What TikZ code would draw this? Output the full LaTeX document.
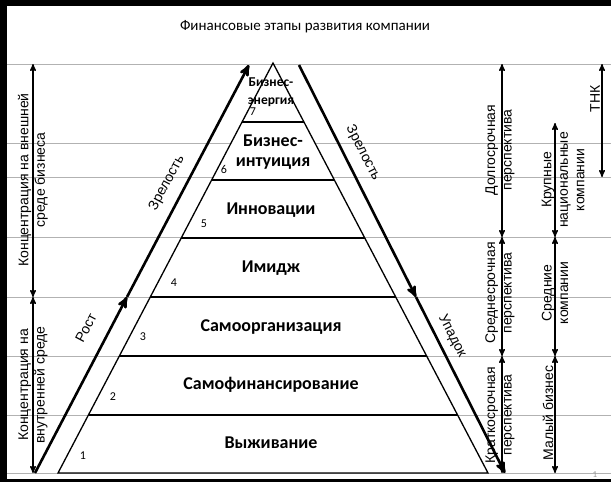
\documentclass[tikz,border=0pt]{standalone}
\usepackage{fontspec}
\setmainfont{Carlito}
\newfontfamily\arialfont{Liberation Sans}
\usetikzlibrary{arrows,positioning}

\tikzset{
  guide/.style={draw=black!30, line width=0.8pt},
  layer/.style={draw=black, line width=2.2pt},
  stage/.style={font=\bfseries\fontsize{18}{20}\selectfont, align=center, inner sep=0pt},
  num/.style={font=\fontsize{12}{14}\selectfont, inner sep=0pt},
  trend/.style={->, line width=2.6pt},
  span/.style={<->, line width=1.4pt},
  sidetext/.style={font=\arialfont\fontsize{14}{16.5}\selectfont, align=center, rotate=90, inner sep=0pt},
  phase/.style={font=\arialfont\fontsize{14}{16}\selectfont, inner sep=0pt},
}

\begin{document}
\begin{tikzpicture}[x=1pt,y=-1pt,>=stealth']
    \useasboundingbox (0,0) rectangle (611,482);
    % frame
    \fill[black] (0,0) rectangle (7,482);
    \fill[black] (0,0) rectangle (611,6);
    \fill[black] (0,479) rectangle (611,482);
    \node[font=\fontsize{15}{18}\selectfont](title)at(305, 27){Финансовые этапы развития компании};
    % grey guide lines
    \foreach \y in {64,143,177,237,297,356,415,473}
        \draw[guide] (7,\y) -- (611,\y);
    % pyramid
    \coordinate (Top) at (273, 63);
    \coordinate (BL) at (58, 473);
    \coordinate (BR) at (488, 473);
    \filldraw[fill=white, line width=1.3pt, line join=miter] (BL) -- (Top) -- (BR) -- cycle;
    \foreach \y/\xl/\xr in {415/88.4/457.6, 356/119.4/426.6, 297/150.3/395.7,
                            238/181.2/364.8, 180/211.6/334.4, 122/242.1/303.9}
        \draw[layer] (\xl,\y) -- (\xr,\y);
    \node[stage](s1)at(271, 443){Выживание};
    \node[stage](s2)at(271, 385){Самофинансирование};
    \node[stage](s3)at(271, 327){Самоорганизация};
    \node[stage](s4)at(271, 268){Имидж};
    \node[stage](s5)at(271, 210){Инновации};
    \node[stage](s6)at(273, 152){Бизнес-\\интуиция};
    \node[num](n1)at(83, 456){1};
    \node[num](n2)at(113, 397){2};
    \node[num](n3)at(143, 337){3};
    \node[num](n4)at(174, 283){4};
    \node[num](n5)at(204, 224){5};
    \node[num](n6)at(224, 169){6};
    \node[num](n7)at(253, 112){7};
    \node[stage, font=\bfseries\fontsize{13.5}{18}\selectfont](s7)at(271, 92){Бизнес-\\энергия};
    % growth and decline
    \coordinate (rostA) at (35, 473);
    \coordinate (rostB) at (127, 297);
    \coordinate (rostC) at (249, 65);
    \coordinate (fallA) at (299, 65);
    \coordinate (fallB) at (416, 297);
    \coordinate (fallC) at (505, 473);
    \draw[trend] (rostA) -- (rostB);
    \draw[trend] (rostB) -- (rostC);
    \draw[trend] (fallA) -- (fallB);
    \draw[trend] (fallB) -- (fallC);
    \node[phase, rotate=62](rost)at(86, 328){Рост};
    \node[phase, rotate=62](zrL)at(167, 183){Зрелость};
    \node[phase, rotate=-63](zrR)at(363, 153){Зрелость};
    \node[phase, rotate=-63](upadok)at(452, 336){Упадок};
    % left spans
    \coordinate (l0) at (33, 64);
    \coordinate (l1) at (33, 297);
    \coordinate (l2) at (33, 473);
    \draw[span] (l0) -- (l1);
    \draw[span] (l1) -- (l2);
    \node[sidetext](outer)at(33, 180){Концентрация на внешней\\среде бизнеса};
    \node[sidetext](inner)at(33, 385){Концентрация на\\внутренней среде};
    % horizon spans
    \coordinate (h0) at (502, 64);
    \coordinate (h1) at (502, 237);
    \coordinate (h2) at (502, 356);
    \coordinate (h3) at (502, 473);
    \draw[span] (h0) -- (h1);
    \draw[span] (h1) -- (h2);
    \draw[span] (h2) -- (h3);
    \node[sidetext](long)at(500, 150){Долгосрочная\\перспектива};
    \node[sidetext](mid)at(500, 293){Среднесрочная\\перспектива};
    \node[sidetext](short)at(500, 415){Краткосрочная\\перспектива};
    % company size spans
    \coordinate (c0) at (555, 123);
    \coordinate (c1) at (555, 237);
    \coordinate (c2) at (555, 356);
    \coordinate (c3) at (555, 473);
    \draw[span] (c0) -- (c1);
    \draw[span] (c1) -- (c2);
    \draw[span] (c2) -- (c3);
    \node[sidetext](large)at(563, 180){Крупные\\национальные\\компании};
    \node[sidetext](medium)at(555, 293){Средние\\компании};
    \node[sidetext](small)at(548, 413){Малый бизнес};
    \coordinate (t0) at (602, 64);
    \coordinate (t1) at (602, 177);
    \draw[span] (t0) -- (t1);
    \node[sidetext](tnk)at(595, 99){ТНК};
    \node[font=\fontsize{9}{10}\selectfont, text=black!40](page)at(595, 475){1};
\end{tikzpicture}
\end{document}
